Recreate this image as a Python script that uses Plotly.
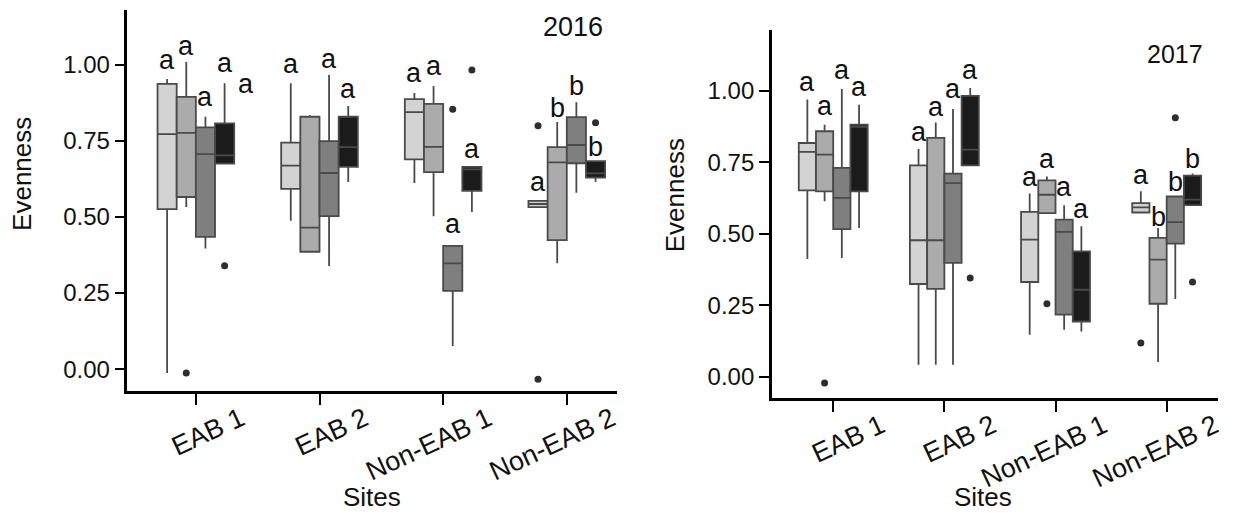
import plotly.graph_objects as go

# ---------------- data ----------------
sites = ["EAB 1", "EAB 2", "Non-EAB 1", "Non-EAB 2"]
treatments = ["T1", "T2", "T3", "T4"]
fills = ["#d3d3d3", "#ababab", "#7f7f7f", "#1b1b1b"]

# 2016 : one list per treatment, values per site
lf_2016 = [[-0.013, 0.488, 0.612, 0.533],
           [0.533, 0.386, 0.503, 0.348],
           [0.397, 0.339, 0.076, 0.580],
           [0.676, 0.615, 0.517, 0.615]]
q1_2016 = [[0.526, 0.593, 0.690, 0.533],
           [0.566, 0.386, 0.648, 0.424],
           [0.435, 0.503, 0.257, 0.677],
           [0.676, 0.665, 0.586, 0.630]]
med_2016 = [[0.773, 0.669, 0.845, 0.543],
            [0.777, 0.465, 0.731, 0.680],
            [0.707, 0.645, 0.348, 0.737],
            [0.703, 0.730, 0.657, 0.644]]
q3_2016 = [[0.938, 0.745, 0.888, 0.553],
           [0.895, 0.830, 0.872, 0.730],
           [0.795, 0.750, 0.405, 0.829],
           [0.808, 0.830, 0.665, 0.684]]
uf_2016 = [[0.954, 0.940, 0.908, 0.553],
           [1.010, 0.835, 0.931, 0.813],
           [0.830, 0.967, 0.405, 0.878],
           [0.940, 0.865, 0.665, 0.684]]
out_2016 = [[[], [], [], [0.800, -0.033]],
            [[-0.013], [], [], []],
            [[], [], [0.855], []],
            [[0.340], [], [0.984], [0.810]]]

# 2017
lf_2017 = [[0.411, 0.042, 0.147, 0.574],
           [0.613, 0.042, 0.572, 0.051],
           [0.415, 0.042, 0.164, 0.272],
           [0.520, 0.739, 0.158, 0.600]]
q1_2017 = [[0.651, 0.324, 0.331, 0.574],
           [0.648, 0.307, 0.572, 0.255],
           [0.516, 0.398, 0.217, 0.465],
           [0.648, 0.739, 0.193, 0.600]]
med_2017 = [[0.786, 0.477, 0.479, 0.592],
            [0.776, 0.477, 0.636, 0.409],
            [0.625, 0.677, 0.506, 0.540],
            [0.873, 0.794, 0.304, 0.619]]
q3_2017 = [[0.817, 0.739, 0.576, 0.607],
           [0.858, 0.835, 0.686, 0.485],
           [0.730, 0.710, 0.549, 0.630],
           [0.881, 0.982, 0.438, 0.703]]
uf_2017 = [[0.969, 0.796, 0.640, 0.648],
           [0.881, 0.889, 0.700, 0.520],
           [1.006, 0.936, 0.599, 0.630],
           [0.951, 1.009, 0.526, 0.710]]
out_2017 = [[[], [], [], [0.118]],
            [[-0.022], [], [0.255], []],
            [[], [], [], [0.905]],
            [[], [0.345], [], [0.331]]]

# significance letters: (site index, box slot, letter, y value)
letters_2016 = [(0, 0, "a", 1.007), (0, 1, "a", 1.053), (0, 2, "a", 0.885), (0, 3, "a", 0.997), (0, 4.1, "a", 0.928),
                (1, 0, "a", 0.993), (1, 2, "a", 1.010), (1, 3, "a", 0.911),
                (2, 0, "a", 0.964), (2, 1, "a", 0.987), (2, 2, "a", 0.467), (2, 3, "a", 0.714),
                (3, 0, "a", 0.605), (3, 1, "b", 0.859), (3, 2, "b", 0.931), (3, 3, "b", 0.730)]
letters_2017 = [(0, 0, "a", 1.020), (0, 1, "a", 0.936), (0, 2, "a", 1.062), (0, 3, "a", 1.002),
                (1, 0, "a", 0.845), (1, 1, "a", 0.933), (1, 2, "a", 0.996), (1, 3, "a", 1.062),
                (2, 0, "a", 0.688), (2, 1, "a", 0.751), (2, 2, "a", 0.653), (2, 3, "a", 0.576),
                (3, 0, "a", 0.695), (3, 1, "b", 0.559), (3, 2, "b", 0.681), (3, 3, "b", 0.761)]

y_ticks = [0.0, 0.25, 0.5, 0.75, 1.0]

# ---------------- figure ----------------
FONT = "Liberation Sans, Arial, sans-serif"
W, H = 1233, 516
GROUP_WIDTH = 0.62           # fraction of category spacing used by the 4 boxes
STEP = GROUP_WIDTH / 4       # width of one box (data units)
site_pos = list(range(len(sites)))

fig = go.Figure()

panels = [
    ("x", "y", lf_2016, q1_2016, med_2016, q3_2016, uf_2016, out_2016),
    ("x2", "y2", lf_2017, q1_2017, med_2017, q3_2017, uf_2017, out_2017),
]
for xa, ya, lf, q1, med, q3, uf, outs in panels:
    for t in range(4):
        xpos = [p + (t - 1.5) * STEP for p in site_pos]
        # per-box sample points (outliers only); empty boxes padded with a null
        pts = [list(o) if o else [None] for o in outs[t]]
        fig.add_trace(go.Box(
            x=xpos, y=pts, width=STEP,
            lowerfence=lf[t], q1=q1[t], median=med[t], q3=q3[t], upperfence=uf[t],
            name=treatments[t],
            fillcolor=fills[t],
            line=dict(color="#4a4a4a", width=1.8),
            whiskerwidth=0,
            boxpoints="outliers", jitter=0, pointpos=0,
            marker=dict(color="#2e2e2e", size=7, line=dict(width=0)),
            xaxis=xa, yaxis=ya, showlegend=False, hoverinfo="skip",
        ))

annotations = []
for xref, yref, letters in (("x", "y", letters_2016), ("x2", "y2", letters_2017)):
    for site_i, slot, letter, yv in letters:
        annotations.append(dict(
            x=site_pos[site_i] + (slot - 1.5) * STEP, y=yv, xref=xref, yref=yref,
            text=letter, showarrow=False, xanchor="center", yanchor="middle",
            yshift=3 if letter == "a" else 0,
            font=dict(family=FONT, size=27, color="#111111")))

def paper_text(cx, cy, text, size, angle=0):
    return dict(x=cx / W, y=1 - cy / H, xref="paper", yref="paper", text=text,
                xanchor="center", yanchor="middle", textangle=angle, showarrow=False,
                font=dict(family=FONT, size=size, color="#111111"))

# year labels
annotations.append(paper_text(575, 27, "2016", 27))
annotations.append(paper_text(1180, 54, "2017", 25))
# axis titles
annotations.append(paper_text(374, 497, "Sites", 26))
annotations.append(paper_text(987, 497, "Sites", 26))
annotations.append(paper_text(22, 174, "Evenness", 26, -90))
annotations.append(paper_text(678, 195, "Evenness", 26, -90))

xcommon = dict(type="linear", tickvals=site_pos, ticktext=sites,
               showline=True, linecolor="black", linewidth=2.5, mirror=False,
               ticks="outside", ticklen=11, tickwidth=2, tickcolor="black",
               showgrid=False, zeroline=False, tickangle=-25, ticklabelstandoff=-12,
               tickfont=dict(family=FONT, size=27, color="#111111"))
ycommon = dict(showline=True, linecolor="black", linewidth=2.5, mirror=False,
               ticks="outside", ticklen=10, tickwidth=2, tickcolor="black",
               showgrid=False, zeroline=False, tickvals=y_ticks, tickformat=".2f",
               tickfont=dict(family=FONT, size=24, color="#111111"))

fig.update_layout(
    width=W, height=H, margin=dict(l=0, r=0, t=0, b=0),
    paper_bgcolor="white", plot_bgcolor="white",
    boxmode="overlay",
    xaxis=dict(xcommon, domain=[128 / W, 620 / W], range=[-0.553, 3.41], anchor="y",
               ticklabelshift=45),
    yaxis=dict(ycommon, domain=[125 / H, 506 / H], range=[-0.072, 1.181], anchor="x"),
    xaxis2=dict(xcommon, domain=[775 / W, 1223 / W], range=[-0.552, 3.462], anchor="y2",
                ticklabelshift=48),
    yaxis2=dict(ycommon, domain=[118 / H, 486 / H], range=[-0.0745, 1.212], anchor="x2"),
    annotations=annotations,
)

fig.write_html("out.html")
